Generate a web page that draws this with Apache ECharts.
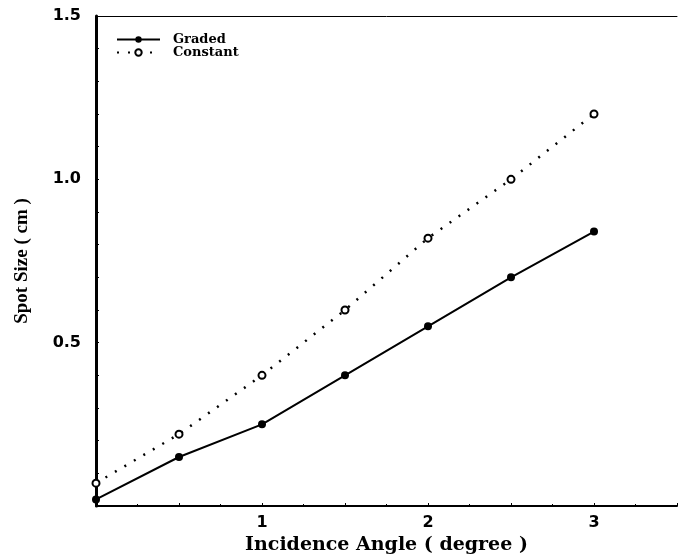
<!DOCTYPE html>
<html>
<head>
<meta charset="utf-8">
<script src="https://cdn.jsdelivr.net/npm/echarts@6/dist/echarts.min.js"></script>
<style>
  html, body { margin: 0; padding: 0; background: #fff; }
  #chart { width: 680px; height: 560px; }
</style>
</head>
<body>
<div id="chart"></div>
<script>
const angles = [0, 0.5, 1, 1.5, 2, 2.5, 3];
const graded = [0.02, 0.15, 0.25, 0.40, 0.55, 0.70, 0.84];
const constant = [0.07, 0.22, 0.40, 0.60, 0.82, 1.00, 1.20];
const xTicks = [1, 2, 3];
const yTicks = [0.5, 1.0, 1.5];

const pairs = (ys) => angles.map((x, i) => [x, ys[i]]);

const chart = echarts.init(document.getElementById("chart"));

const tickFont = {
  fontFamily: "DejaVu Sans",
  fontWeight: "bold",
  fontSize: 16,
  color: "#000",
};

const option = {
  backgroundColor: "#fff",
  animation: false,
  grid: {
    left: 96,
    top: 16,
    width: 590,
    height: 495,
  },
  legend: {
    left: 111,
    top: 28,
    orient: "vertical",
    itemWidth: 43,
    itemHeight: 8,
    itemGap: 0,
    textStyle: {
      fontFamily: "DejaVu Serif",
      fontWeight: "bold",
      fontSize: 13,
      lineHeight: 12,
      color: "#000",
      padding: [0, 0, 0, 8],
    },
    data: ["Graded", "Constant"],
  },
  xAxis: [
    {
      type: "value",
      min: 0,
      max: 3.5,
      interval: 0.5,
      name: "Incidence Angle ( degree )",
      nameLocation: "middle",
      nameGap: 30,
      nameTextStyle: {
        fontFamily: "DejaVu Serif",
        fontWeight: "bold",
        fontSize: 19,
        color: "#000",
      },
      axisLine: { lineStyle: { color: "#000", width: 2 } },
      axisTick: { show: true, inside: true, length: 3, lineStyle: { color: "#000" } },
      minorTick: { show: true, splitNumber: 2, length: 2, lineStyle: { color: "#000" } },
      splitLine: { show: false },
      axisLabel: {
        ...tickFont,
        margin: 9,
        formatter: (v) => (xTicks.includes(v) ? String(v) : ""),
      },
    },
    {
      type: "value",
      position: "top",
      min: 0,
      max: 3.5,
      axisLine: { show: true, lineStyle: { color: "#000", width: 1 } },
      axisTick: { show: false },
      axisLabel: { show: false },
      splitLine: { show: false },
    },
  ],
  yAxis: {
    type: "value",
    min: 0,
    max: 1.5,
    interval: 0.1,
    name: "Spot Size ( cm )",
    nameLocation: "middle",
    nameGap: 64,
    nameRotate: 90,
    nameTextStyle: {
      fontFamily: "Liberation Serif",
      fontWeight: "bold",
      fontSize: 19,
      color: "#000",
    },
    axisLine: { lineStyle: { color: "#000", width: 3 } },
    axisTick: { show: true, inside: true, length: 3, lineStyle: { color: "#000" } },
    splitLine: { show: false },
    axisLabel: {
      ...tickFont,
      margin: 15,
      formatter: (v) => {
        const r = Math.round(v * 10) / 10;
        return yTicks.includes(r) ? r.toFixed(1) : "";
      },
    },
  },
  series: [
    {
      name: "Graded",
      type: "line",
      data: pairs(graded),
      symbol: "circle",
      symbolSize: 8,
      itemStyle: { color: "#000" },
      lineStyle: { color: "#000", width: 2 },
    },
    {
      name: "Constant",
      type: "line",
      data: pairs(constant),
      symbol: "circle",
      symbolSize: 7,
      itemStyle: { color: "#fff", borderColor: "#000", borderWidth: 2 },
      lineStyle: { color: "#000", width: 2.5, type: [2, 9] },
    },
  ],
};

chart.setOption(option);
</script>
</body>
</html>
